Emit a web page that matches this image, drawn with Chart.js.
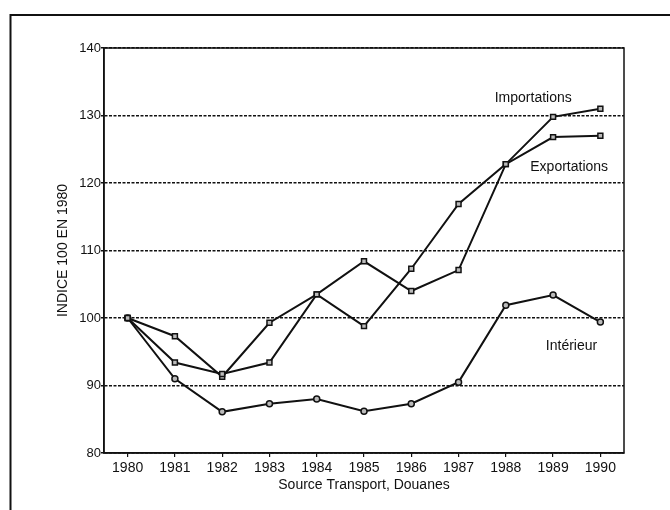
<!DOCTYPE html>
<html>
<head>
<meta charset="utf-8">
<script src="https://cdn.jsdelivr.net/npm/chart.js@4/dist/chart.umd.min.js"></script>
<style>
  html, body { margin: 0; padding: 0; background: #fff; }
  #wrap { width: 670px; height: 510px; position: relative; }
</style>
</head>
<body>
<div id="wrap"><canvas id="trafficChart"></canvas></div>
<script>
// Values (index 100 in 1980)
const years = ['1980', '1981', '1982', '1983', '1984', '1985', '1986', '1987', '1988', '1989', '1990'];
const importations = [100, 93.4, 91.7, 93.4, 103.5, 98.8, 107.3, 116.9, 122.8, 129.8, 131.0];
const exportations = [100, 97.3, 91.3, 99.3, 103.5, 108.4, 104.0, 107.1, 122.8, 126.8, 127.0];
const interieur = [100, 91.0, 86.1, 87.3, 88.0, 86.2, 87.3, 90.5, 101.9, 103.4, 99.4];
const yTicks = [80, 90, 100, 110, 120, 130, 140];

// Series names written inside the plot: [text, category index, value]
const seriesLabels = [
    ['Importations', 8.58, 132.5],
    ['Exportations', 9.34, 122.4],
    ['Intérieur', 9.39, 95.9]
];

const FONT = 'Liberation Sans';

// Outer frame of the scanned page + box round the plot + in-plot labels
const decorations = {
    id: 'decorations',
    afterDraw(chart) {
        const ctx = chart.ctx;
        const area = chart.chartArea;
        const x = chart.scales.x;
        const y = chart.scales.y;
        ctx.save();
        ctx.strokeStyle = '#111';
        ctx.lineWidth = 2;
        ctx.strokeRect(10.5, 15, 720, 600);
        ctx.lineWidth = 1.5;
        ctx.strokeRect(area.left, area.top, area.right - area.left, area.bottom - area.top);
        ctx.fillStyle = '#111';
        ctx.font = '14px "' + FONT + '"';
        ctx.textAlign = 'center';
        ctx.textBaseline = 'middle';
        seriesLabels.forEach(([text, idx, val]) => {
            ctx.fillText(text, x.getPixelForValue(idx), y.getPixelForValue(val));
        });
        ctx.restore();
    }
};

const squareSeries = {
    borderColor: '#111',
    borderWidth: 2,
    pointStyle: 'rect',
    pointRadius: 3.5,
    pointBorderWidth: 1.5,
    pointBackgroundColor: '#bbb',
    pointBorderColor: '#111',
    tension: 0,
    fill: false
};

new Chart(document.getElementById('trafficChart').getContext('2d'), {
    type: 'line',
    data: {
        labels: years,
        datasets: [
            { label: 'Importations', data: importations, ...squareSeries },
            { label: 'Exportations', data: exportations, ...squareSeries },
            {
                label: 'Intérieur',
                data: interieur,
                borderColor: '#111',
                borderWidth: 2,
                pointStyle: 'circle',
                pointRadius: 3,
                pointBorderWidth: 1.5,
                pointBackgroundColor: '#bbb',
                pointBorderColor: '#111',
                tension: 0,
                fill: false
            }
        ]
    },
    options: {
        responsive: true,
        maintainAspectRatio: false,
        animation: false,
        layout: {
            padding: { left: 55, right: 46, top: 48, bottom: 16 }
        },
        plugins: {
            legend: { display: false },
            tooltip: { enabled: false }
        },
        scales: {
            x: {
                offset: true,
                grid: {
                    display: true,
                    drawOnChartArea: false,
                    drawTicks: true,
                    tickLength: 4,
                    color: '#111',
                    lineWidth: 1.2,
                    offset: false
                },
                border: { display: true, color: '#111', width: 1.5 },
                ticks: {
                    color: '#111',
                    padding: 3,
                    maxRotation: 0,
                    autoSkip: false,
                    font: { family: FONT, size: 14 }
                },
                title: {
                    display: true,
                    text: 'Source Transport, Douanes',
                    color: '#111',
                    padding: 0,
                    font: { family: FONT, size: 14 }
                },
                afterFit(scale) { scale.height = 41; }
            },
            y: {
                min: 80,
                max: 140,
                afterBuildTicks(scale) {
                    scale.ticks = yTicks.map(v => ({ value: v }));
                },
                grid: {
                    color: '#111',
                    lineWidth: 1.5,
                    tickLength: 3,
                    tickBorderDash: [],
                    tickWidth: 1.3
                },
                // in v4 border.dash sets the dash of the grid lines
                border: { display: true, color: '#111', width: 1.5, dash: [3, 1.5] },
                ticks: {
                    color: '#111',
                    padding: 0,
                    font: { family: FONT, size: 13 }
                },
                title: {
                    display: true,
                    text: 'INDICE 100 EN 1980',
                    color: '#111',
                    padding: 0,
                    font: { family: FONT, size: 14 }
                },
                afterFit(scale) { scale.width = 49; }
            }
        }
    },
    plugins: [decorations]
});
</script>
</body>
</html>
